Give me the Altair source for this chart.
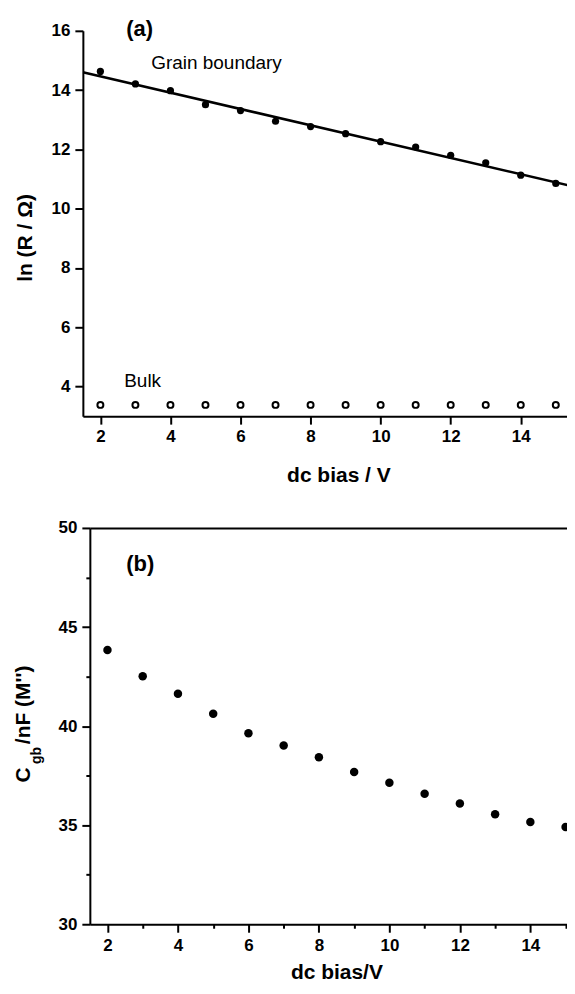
import altair as alt
import pandas as pd

FONT = "Liberation Sans, Arial, Helvetica, sans-serif"

# ---------------- data ----------------
bias = [2, 3, 4, 5, 6, 7, 8, 9, 10, 11, 12, 13, 14, 15]
ln_r_grain = [14.63, 14.21, 13.98, 13.51, 13.31, 12.95, 12.77, 12.53,
              12.26, 12.08, 11.80, 11.55, 11.13, 10.85]
ln_r_bulk = [3.38, 3.38, 3.38, 3.38, 3.38, 3.38, 3.38, 3.38,
             3.38, 3.38, 3.38, 3.38, 3.38, 3.38]
fit_bias = [1.5, 15.5]
fit_ln_r = [14.60, 10.75]
c_gb = [43.84, 42.51, 41.63, 40.62, 39.64, 39.02, 38.43, 37.68,
        37.14, 36.59, 36.09, 35.55, 35.16, 34.91]

a_labels = ["(a)", "Grain boundary", "Bulk"]
a_label_x = [3.12, 3.45, 2.68]
a_label_y = [16.05, 14.9, 4.18]
b_labels = ["(b)"]
b_label_x = [2.93]
b_label_y = [48.2]

x_ticks = list(range(2, 16))
ya_ticks = list(range(4, 17))
yb_ticks = [30, 32.5, 35, 37.5, 40, 42.5, 45, 47.5, 50]

df_a = pd.DataFrame({"bias": bias, "grain": ln_r_grain, "bulk": ln_r_bulk})
df_fit = pd.DataFrame({"bias": fit_bias, "lnr": fit_ln_r})
df_b = pd.DataFrame({"bias": bias, "c": c_gb})

even_major = {"condition": {"test": "datum.value % 2 == 0", "value": 8}, "value": 4}
five_major = {"condition": {"test": "datum.value % 5 == 0", "value": 8}, "value": 4}

# ---------------- panel (a) ----------------
xa_scale = alt.Scale(domain=[1.5, 15.32], nice=False, zero=False)
ya_scale = alt.Scale(domain=[3, 16], nice=False, zero=False)

xa_axis = alt.Axis(values=x_ticks, labelExpr="datum.value % 2 == 0 ? datum.label : ''",
                   tickSize=even_major, title="dc bias / V", titlePadding=20,
                   labelPadding=4, titleX=256)
ya_axis = alt.Axis(values=ya_ticks, labelExpr="datum.value % 2 == 0 ? datum.label : ''",
                   tickSize=even_major, title="ln (R / Ω)", titlePadding=16,
                   labelPadding=5, titleY=207)

base_a = alt.Chart(df_a)
grain = base_a.mark_circle(size=52, color="black", opacity=1, clip=True).encode(
    x=alt.X("bias:Q", scale=xa_scale, axis=xa_axis),
    y=alt.Y("grain:Q", scale=ya_scale, axis=ya_axis),
)
bulk = base_a.mark_point(shape="circle", filled=False, size=36, strokeWidth=2,
                         color="black", opacity=1, clip=True).encode(
    x=alt.X("bias:Q", scale=xa_scale),
    y=alt.Y("bulk:Q", scale=ya_scale),
)
fit = alt.Chart(df_fit).mark_line(color="black", strokeWidth=2.5, clip=True).encode(
    x=alt.X("bias:Q", scale=xa_scale),
    y=alt.Y("lnr:Q", scale=ya_scale),
)
df_at = pd.DataFrame({"t": a_labels, "x": a_label_x, "y": a_label_y})
txt_a_title = alt.Chart(df_at.iloc[[0]]).mark_text(font=FONT, fontWeight="bold", fontSize=22,
                                                   color="black", align="center").encode(
    x=alt.X("x:Q", scale=xa_scale), y=alt.Y("y:Q", scale=ya_scale), text="t:N")
txt_a_notes = alt.Chart(df_at.iloc[1:]).mark_text(font=FONT, fontSize=19, color="black",
                                                  align="left").encode(
    x=alt.X("x:Q", scale=xa_scale), y=alt.Y("y:Q", scale=ya_scale), text="t:N")

panel_a = alt.layer(fit, grain, bulk, txt_a_title, txt_a_notes).properties(width=485, height=386)

# ---------------- panel (b) ----------------
# the y axis of (b) sits 7 px right of that of (a): the x range starts 7 px in
xb_scale = alt.Scale(domain=[1.5, 15.04], range=[7, 485], nice=False, zero=False)
yb_scale = alt.Scale(domain=[30, 50], nice=False, zero=False)

xb_axis = alt.Axis(values=x_ticks, labelExpr="datum.value % 2 == 0 ? datum.label : ''",
                   tickSize=even_major, title="dc bias/V", titlePadding=8,
                   labelPadding=5, titleX=254)
yb_axis = alt.Axis(values=yb_ticks, labelExpr="datum.value % 5 == 0 ? datum.label : ''",
                   tickSize=five_major, title="C\u00a0\u00a0\u00a0\u00a0/nF (M'')",
                   titlePadding=25, labelPadding=5, titleY=196, offset=-7)

base_b = alt.Chart(df_b)
pts_b = base_b.mark_circle(size=72, color="black", opacity=1, clip=True).encode(
    x=alt.X("bias:Q", scale=xb_scale, axis=xb_axis),
    y=alt.Y("c:Q", scale=yb_scale, axis=yb_axis),
)
top_frame = base_b.mark_circle(size=72, opacity=0, clip=True).encode(
    x=alt.X("bias:Q", scale=xb_scale,
            axis=alt.Axis(orient="top", labels=False, ticks=False, title=None)),
    y=alt.Y("c:Q", scale=yb_scale),
)
df_bt = pd.DataFrame({"t": b_labels, "x": b_label_x, "y": b_label_y})
txt_b = alt.Chart(df_bt).mark_text(font=FONT, fontWeight="bold", fontSize=22,
                                   color="black", align="center").encode(
    x=alt.X("x:Q", scale=xb_scale, axis=None),
    y=alt.Y("y:Q", scale=yb_scale), text="t:N")
sub_gb = alt.Chart(pd.DataFrame({"t": ["gb"]})).mark_text(
    font=FONT, fontWeight="bold", fontSize=14, color="black", angle=270,
    align="center", baseline="middle").encode(
    x=alt.value(-46), y=alt.value(228), text="t:N")

panel_b = alt.layer(pts_b, top_frame, txt_b, sub_gb).resolve_axis(x="independent").properties(
    width=485, height=397)

chart = alt.concat(panel_a, panel_b, columns=1, spacing=34).properties(
    padding={"left": 4, "top": 9, "right": 0, "bottom": 0}
).configure_axis(
    labelFont=FONT, labelFontWeight="bold", labelFontSize=17, labelColor="black",
    titleFont=FONT, titleFontWeight="bold", titleFontSize=21, titleColor="black",
    domainColor="black", domainWidth=2, tickColor="black", tickWidth=2, grid=False,
).configure_view(stroke=None)

chart.save("out.html", embed_options={"renderer": "svg", "actions": False})
